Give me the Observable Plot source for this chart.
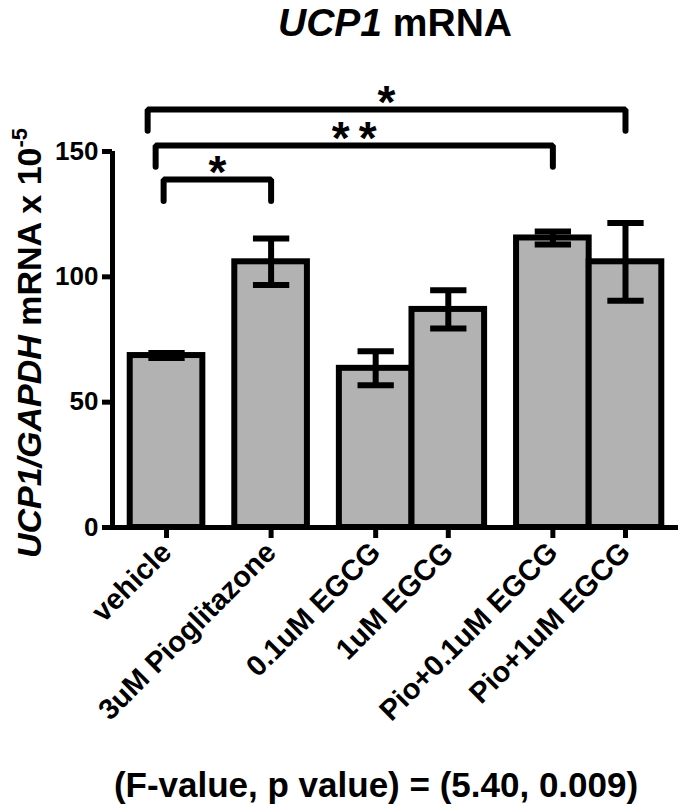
<!DOCTYPE html>
<html><head><meta charset="utf-8">
<script src="https://cdn.jsdelivr.net/npm/d3@7"></script>
<script src="https://cdn.jsdelivr.net/npm/@observablehq/plot@0.6"></script>
<style>
html,body{margin:0;padding:0;background:#fff;}
#chart svg{display:block;}
</style></head><body><div id="chart"></div>
<script>
// ---- data ----
const categories = ["vehicle", "3uM Pioglitazone", "0.1uM EGCG", "1uM EGCG", "Pio+0.1uM EGCG", "Pio+1uM EGCG"];
const groups = ["vehicle", "pio", "egcg", "egcg", "combo", "combo"];
const means = [68.6, 106.0, 63.5, 87.0, 115.5, 106.0];
const sems = [1.0, 9.3, 6.8, 7.6, 2.6, 15.5];
const yTicks = [0, 50, 100, 150];
const sigFrom = ["vehicle", "vehicle", "vehicle"];
const sigTo = ["3uM Pioglitazone", "Pio+0.1uM EGCG", "Pio+1uM EGCG"];
const sigLevel = [138.8, 152.4, 166.8];
const sigLabel = ["*", "**", "*"];
const titleParts = [["UCP1", "italic"], [" mRNA", "normal"]];
const yLabelParts = [["UCP1/GAPDH", "italic", false], [" mRNA x 10", "normal", false], ["-5", "normal", true]];
const captionText = "(F-value, p value) = (5.40, 0.009)";

// ---- layout helpers (band layout with extra space between groups) ----
const GAP = 0.44;
let gapCount = 0;
const pos = categories.map((c, i) => {
  if (i > 0 && groups[i] !== groups[i - 1]) gapCount++;
  return i + gapCount * GAP;
});
const posOf = Object.fromEntries(categories.map((c, i) => [c, pos[i]]));
const labelOf = new Map(pos.map((p, i) => [p, categories[i]]));
const xmin = pos[0] - 0.744, xmax = pos[pos.length - 1] + 0.73;

const data = categories.map((c, i) => ({cat: c, pos: pos[i], mean: means[i], sem: sems[i]}));

const DROP = 8.5;
const bracketPts = [];
const stars = [];
sigFrom.forEach((f, k) => {
  const xl = posOf[f] - (0.04 + 0.11 * k);
  const xr = posOf[sigTo[k]];
  const y = sigLevel[k];
  bracketPts.push({id: k, x: xl, y: y - DROP}, {id: k, x: xl, y}, {id: k, x: xr, y}, {id: k, x: xr, y: y - DROP});
  stars.push({x: (xl + xr) / 2, y, label: sigLabel[k]});
});

const FONT = "'Liberation Sans', Arial, Helvetica, sans-serif";
const SW = 6;

const chart = Plot.plot({
  width: 685, height: 812,
  marginLeft: 112, marginRight: 7, marginTop: 151, marginBottom: 285,
  x: {domain: [xmin, xmax], axis: null},
  y: {domain: [0, 150], axis: null},
  style: {fontFamily: FONT, fontWeight: "bold", color: "black", background: "white"},
  marks: [
    Plot.rect(data, {x1: d => d.pos - 0.5, x2: d => d.pos + 0.5, y1: 0, y2: "mean", fill: "#b2b2b2", stroke: "black", strokeWidth: SW}),
    Plot.link(data, {x1: "pos", x2: "pos", y1: d => d.mean - d.sem, y2: d => d.mean + d.sem, stroke: "black", strokeWidth: SW}),
    Plot.link(data, {x1: d => d.pos - 0.25, x2: d => d.pos + 0.25, y1: d => d.mean + d.sem, y2: d => d.mean + d.sem, stroke: "black", strokeWidth: SW}),
    Plot.link(data, {x1: d => d.pos - 0.25, x2: d => d.pos + 0.25, y1: d => d.mean - d.sem, y2: d => d.mean - d.sem, stroke: "black", strokeWidth: SW}),
    Plot.ruleX([xmin], {y1: 0, y2: 150, stroke: "black", strokeWidth: 5}),
    Plot.ruleY([0], {stroke: "black", strokeWidth: 5}),
    Plot.axisY({ticks: yTicks, tickSize: 10, tickPadding: 4, fontSize: 26, strokeWidth: 5, label: null}),
    Plot.axisX({ticks: pos, tickFormat: p => labelOf.get(p), tickRotate: -45, tickSize: 11, tickPadding: 9, fontSize: 29, strokeWidth: 5, label: null}),
    Plot.line(bracketPts, {x: "x", y: "y", z: "id", stroke: "black", strokeWidth: SW, strokeLinejoin: "miter", curve: "linear"}),
    Plot.text(stars, {x: "x", y: "y", text: d => d.label.split("").join("\u2009"), fontSize: 46, fontWeight: "bold", dy: -6})
  ]
});
document.getElementById("chart").appendChild(chart);

const svg = d3.select(chart);
// title
const t = svg.append("text").attr("x", 395).attr("y", 36).attr("text-anchor", "middle")
  .attr("font-family", FONT).attr("font-weight", "bold").attr("font-size", 39).attr("fill", "black");
titleParts.forEach(([s, st]) => t.append("tspan").attr("font-style", st).text(s));
// y label
const yl = svg.append("text").attr("transform", "translate(41,343) rotate(-90)").attr("text-anchor", "middle")
  .attr("font-family", FONT).attr("font-weight", "bold").attr("font-size", 34).attr("fill", "black");
yLabelParts.forEach(([s, st, sup]) => {
  const ts = yl.append("tspan").attr("font-style", st).text(s);
  if (sup) ts.attr("font-size", 22).attr("dy", -14);
});
// caption
svg.append("text").attr("x", 376).attr("y", 797).attr("text-anchor", "middle")
  .attr("font-family", FONT).attr("font-weight", "bold").attr("font-size", 35).attr("fill", "black")
  .text(captionText);
</script>
</body></html>
